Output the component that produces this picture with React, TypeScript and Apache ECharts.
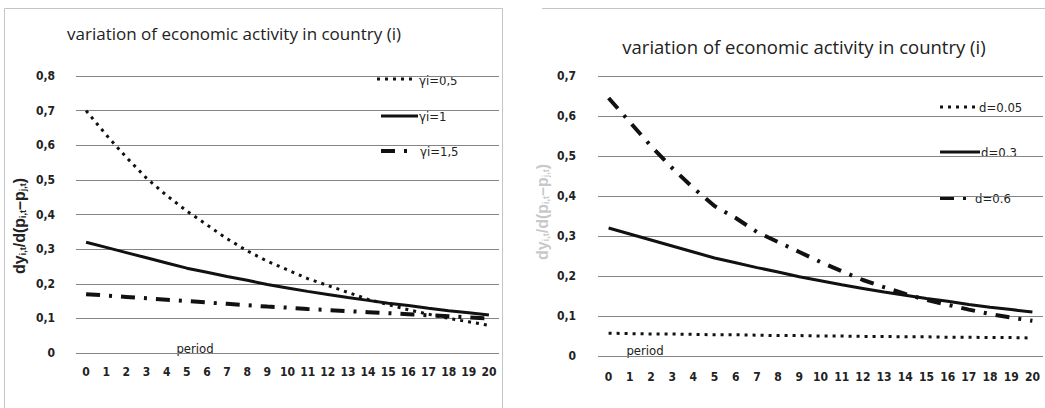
import React, { useEffect, useRef } from "react";
import * as echarts from "echarts";

const periods = ["0","1","2","3","4","5","6","7","8","9","10","11","12","13","14","15","16","17","18","19","20"];

const leftNames = ["γi=0,5", "γi=1", "γi=1,5"];
const gamma05 = [0.70, 0.63, 0.565, 0.505, 0.455, 0.41, 0.37, 0.33, 0.295, 0.265, 0.24, 0.215, 0.195, 0.175, 0.155, 0.14, 0.125, 0.112, 0.10, 0.09, 0.08];
const gamma1 = [0.32, 0.305, 0.29, 0.275, 0.26, 0.245, 0.233, 0.221, 0.21, 0.198, 0.188, 0.178, 0.169, 0.16, 0.152, 0.144, 0.137, 0.129, 0.122, 0.116, 0.11];
const gamma15 = [0.17, 0.166, 0.162, 0.158, 0.154, 0.15, 0.146, 0.142, 0.138, 0.134, 0.131, 0.127, 0.124, 0.121, 0.118, 0.115, 0.112, 0.109, 0.106, 0.103, 0.10];

const rightNames = ["d=0.05", "d=0.3", "d=0.6"];
const d005 = [0.057, 0.056, 0.055, 0.055, 0.054, 0.053, 0.053, 0.052, 0.051, 0.051, 0.05, 0.05, 0.049, 0.049, 0.048, 0.048, 0.047, 0.047, 0.046, 0.046, 0.045];
const d03 = [0.32, 0.305, 0.29, 0.275, 0.26, 0.245, 0.233, 0.221, 0.21, 0.198, 0.188, 0.178, 0.169, 0.16, 0.152, 0.144, 0.137, 0.129, 0.122, 0.116, 0.11];
const d06 = [0.645, 0.585, 0.525, 0.47, 0.42, 0.375, 0.345, 0.31, 0.285, 0.26, 0.235, 0.212, 0.19, 0.172, 0.155, 0.14, 0.128, 0.116, 0.105, 0.096, 0.088];

const titleText = "variation of economic activity in country (i)";
const xName = "period";

const FONT = "'Open Sans', 'DejaVu Sans', sans-serif";
const NARROW = "'Liberation Sans Narrow', 'DejaVu Sans Condensed', 'Roboto', sans-serif";

const fmt = (v: number) => (v === 0 ? "0" : v.toFixed(1).replace(".", ","));

const DOT = [3, 5];
const DASHDOT = [14, 9, 3, 9];
const dotted = { color: "#111", width: 3, type: DOT };
const solid = { color: "#111", width: 3, type: "solid" };
const dashDot = { color: "#111", width: 4, type: DASHDOT };

export default function App() {
  const ref = useRef<HTMLDivElement>(null);
  useEffect(() => {
    document.body.style.margin = "0";
    const chart = echarts.init(ref.current!, undefined, { renderer: "svg" });
    const yAxisCommon = {
      type: "value" as const,
      min: 0,
      interval: 0.1,
      axisLine: { show: false },
      axisTick: { show: false },
      splitLine: { lineStyle: { color: "#858585", width: 1 } },
      axisLabel: { formatter: fmt, color: "#222", fontSize: 12, fontWeight: "bold", fontFamily: NARROW, margin: 21 },
    };
    const xAxisCommon = {
      type: "category" as const,
      data: periods,
      boundaryGap: true,
      axisLine: { show: false },
      axisTick: { show: false },
      axisLabel: { color: "#222", fontSize: 12, fontWeight: "bold", fontFamily: NARROW, interval: 0 },
    };
    const mkSeries = (name: string, data: number[], ls: any, idx: number) => ({
      name,
      type: "line",
      data,
      xAxisIndex: idx,
      yAxisIndex: idx,
      symbol: "none",
      lineStyle: ls,
      itemStyle: { color: "#111" },
    });
    const subRich = {
      n: { fontSize: 16, fontWeight: "bold", fontFamily: "'Liberation Sans', Arial, sans-serif", lineHeight: 20, verticalAlign: "bottom" },
      s: { fontSize: 9, fontWeight: "bold", fontFamily: "'Liberation Sans', Arial, sans-serif", lineHeight: 16, verticalAlign: "bottom" },
    };
    const yNameText = "{n|dy}{s|i,t}{n|/d(p}{s|i,t}{n|–p}{s|j,t}{n|)}";
    const legLine = (x1: number, x2: number, y: number, w: number, dash: any) => ({
      type: "line", silent: true,
      shape: { x1, y1: y, x2, y2: y },
      style: { stroke: "#111", lineWidth: w, lineDash: dash },
    });
    const legText = (x: number, y: number, text: string) => ({
      type: "text", x, y, silent: true,
      style: { text, fontSize: 13, fontFamily: NARROW, fill: "#222", textAlign: "left", textVerticalAlign: "middle" },
    });
    chart.setOption({
      animation: false,
      backgroundColor: "#fff",
      grid: [
        { left: 76, top: 76, width: 423, height: 277 },
        { left: 598, top: 76, width: 445, height: 280 },
      ],
      xAxis: [
        { ...xAxisCommon, gridIndex: 0, axisLabel: { ...xAxisCommon.axisLabel, margin: 13 } },
        { ...xAxisCommon, gridIndex: 1, axisLabel: { ...xAxisCommon.axisLabel, margin: 15 } },
      ],
      yAxis: [
        { ...yAxisCommon, gridIndex: 0, max: 0.8 },
        { ...yAxisCommon, gridIndex: 1, max: 0.7, axisLabel: { ...yAxisCommon.axisLabel, margin: 22 } },
      ],
      series: [
        mkSeries(leftNames[0], gamma05, dotted, 0),
        mkSeries(leftNames[1], gamma1, solid, 0),
        mkSeries(leftNames[2], gamma15, dashDot, 0),
        mkSeries(rightNames[0], d005, dotted, 1),
        mkSeries(rightNames[1], d03, solid, 1),
        mkSeries(rightNames[2], d06, dashDot, 1),
      ],
      graphic: [
        { type: "rect", shape: { x: 4.5, y: 8.5, width: 498, height: 410 }, style: { fill: "none", stroke: "#c4c4c4", lineWidth: 1 }, silent: true, z: -1 },
        { type: "line", shape: { x1: 542, y1: 8.5, x2: 1045, y2: 8.5 }, style: { stroke: "#c4c4c4", lineWidth: 1 }, silent: true },
        { type: "text", x: 234, y: 33, style: { text: titleText, fontSize: 17, fontFamily: FONT, fill: "#222", textAlign: "center", textVerticalAlign: "middle" } },
        { type: "text", x: 804, y: 46, style: { text: titleText, fontSize: 18.5, fontFamily: FONT, fill: "#222", textAlign: "center", textVerticalAlign: "middle" } },
        { type: "text", x: 195, y: 348, style: { text: xName, fontSize: 13, fontFamily: NARROW, fill: "#222", textAlign: "center", textVerticalAlign: "middle" } },
        { type: "text", x: 645, y: 350, style: { text: xName, fontSize: 13, fontFamily: NARROW, fill: "#222", textAlign: "center", textVerticalAlign: "middle" } },
        { type: "text", x: 17, y: 226, rotation: Math.PI / 2, style: { text: yNameText, rich: subRich, fill: "#222", textAlign: "center", textVerticalAlign: "middle" } },
        { type: "text", x: 540, y: 212, rotation: Math.PI / 2, style: { text: yNameText, rich: subRich, fill: "#999", opacity: 0.55, textAlign: "center", textVerticalAlign: "middle" } },
        legLine(377, 417, 79, 3, DOT), legText(419, 80, leftNames[0]),
        legLine(381, 418, 116, 3, null), legText(419, 116, leftNames[1]),
        legLine(381, 410, 151, 4, DASHDOT), legText(420, 151, leftNames[2]),
        legLine(940, 978, 107, 3, DOT), legText(979, 107, rightNames[0]),
        legLine(940, 980, 152, 3, null), legText(981, 152, rightNames[1]),
        legLine(940, 970, 198, 4, DASHDOT), legText(975, 198, rightNames[2]),
      ],
    });
    return () => chart.dispose();
  }, []);
  return <div ref={ref} style={{ width: 1045, height: 408 }} />;
}
